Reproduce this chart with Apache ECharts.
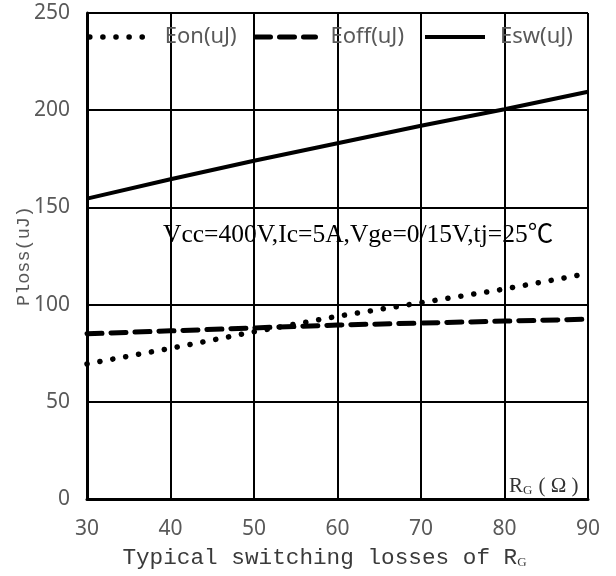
<!DOCTYPE html>
<html>
<head>
<meta charset="utf-8">
<script src="https://cdn.jsdelivr.net/npm/echarts@6/dist/echarts.min.js"></script>
<style>
  html, body { margin: 0; padding: 0; background: #fff; }
  #chart { width: 616px; height: 576px; }
</style>
</head>
<body>
<div id="chart"></div>
<script>
// Gate resistance RG (Ω)
const rg = [30, 40, 50, 60, 70, 80, 90];
// Switching energies (uJ)
const eon = [69.5, 77.5, 86, 94, 101, 108, 116];
const eoff = [85, 86.5, 88, 89.5, 90.5, 91.5, 92.5];
const esw = [154.5, 164.5, 174, 183, 192, 200.5, 209.5];

const seriesNames = ['Eon(uJ)', 'Eoff(uJ)', 'Esw(uJ)'];
const yTicks = { min: 0, max: 250, step: 50 };
const xTicks = { min: 30, max: 90, step: 10 };
const condition = 'Vcc=400V,Ic=5A,Vge=0/15V,tj=25℃';

const grey = '#595959';
const sans = '"Noto Sans", "Open Sans", sans-serif';
const mono = '"Liberation Mono", "DejaVu Sans Mono", monospace';
const serif = '"Liberation Serif", "Noto Sans CJK SC", serif';

const toPairs = vals => rg.map((x, i) => [x, vals[i]]);

const chart = echarts.init(document.getElementById('chart'), null, { renderer: 'canvas' });

// One legend per series so each entry sits on its own column pair
const legendBase = {
  orient: 'horizontal',
  top: 26,
  padding: 0,
  itemWidth: 60,
  itemHeight: 14,
  selectedMode: false,
  textStyle: { color: grey, fontSize: 22, fontFamily: sans, padding: [0, 0, 0, 10] },
  itemStyle: { opacity: 0 },
  lineStyle: { width: 'inherit', type: 'inherit', cap: 'inherit', color: 'inherit' }
};

chart.setOption({
  animation: false,
  backgroundColor: '#fff',
  grid: { left: 87, right: 28, top: 13, bottom: 77, containLabel: false },
  legend: [
    Object.assign({}, legendBase, { left: 87, data: [seriesNames[0]] }),
    Object.assign({}, legendBase, { left: 253, data: [seriesNames[1]] }),
    Object.assign({}, legendBase, { left: 423, data: [seriesNames[2]] })
  ],
  xAxis: {
    type: 'value',
    min: xTicks.min, max: xTicks.max, interval: xTicks.step,
    axisLine: { show: true, onZero: false, lineStyle: { color: '#000', width: 3 } },
    axisTick: { show: false },
    splitLine: { show: true, lineStyle: { color: '#000', width: 2 } },
    axisLabel: { color: grey, fontSize: 21, fontFamily: sans, margin: 20 },
    name: '{a|Typical switching losses of R}{s|G}',
    nameLocation: 'middle',
    nameGap: 47,
    nameTextStyle: {
      padding: [0, 26, 0, 0],
      rich: {
        a: { fontFamily: mono, fontSize: 22.7, color: '#3a3a3a' },
        s: { fontFamily: serif, fontSize: 13, color: '#3a3a3a', padding: [10, 0, 0, 0] }
      }
    }
  },
  yAxis: {
    type: 'value',
    min: yTicks.min, max: yTicks.max, interval: yTicks.step,
    axisLine: { show: true, lineStyle: { color: '#000', width: 3 } },
    axisTick: { show: false },
    splitLine: { show: true, lineStyle: { color: '#000', width: 2 } },
    axisLabel: { color: grey, fontSize: 21, fontFamily: sans, margin: 17 },
    name: 'Ploss(uJ)',
    nameLocation: 'middle',
    nameRotate: 90,
    nameGap: 53,
    nameMoveOverlap: false,
    nameTextStyle: { fontFamily: mono, fontSize: 18.5, color: grey }
  },
  series: [
    {
      name: seriesNames[0], type: 'line', data: toPairs(eon), symbol: 'none',
      lineStyle: { color: '#000', width: 5.5, type: [0.1, 13], cap: 'round' },
      itemStyle: { color: '#000' }, z: 3
    },
    {
      name: seriesNames[1], type: 'line', data: toPairs(eoff), symbol: 'none',
      lineStyle: { color: '#000', width: 5, type: [15, 9], cap: 'round' },
      itemStyle: { color: '#000' }, z: 3
    },
    {
      name: seriesNames[2], type: 'line', data: toPairs(esw), symbol: 'none',
      lineStyle: { color: '#000', width: 4 },
      itemStyle: { color: '#000' }, z: 3
    }
  ],
  graphic: [
    {
      type: 'text', left: 163, top: 223, z: 10,
      style: { text: condition, fill: '#000', font: '25.5px ' + serif }
    },
    {
      type: 'text', left: 509, top: 476, z: 10,
      style: {
        text: '{r|R}{s|G}{p|( Ω )}',
        rich: {
          r: { fontFamily: serif, fontSize: 21, fill: '#333' },
          s: { fontFamily: serif, fontSize: 13, fill: '#333', padding: [9, 0, 0, 0] },
          p: { fontFamily: serif, fontSize: 21, fill: '#333', padding: [0, 0, 0, 6] }
        }
      }
    }
  ]
});
</script>
</body>
</html>
